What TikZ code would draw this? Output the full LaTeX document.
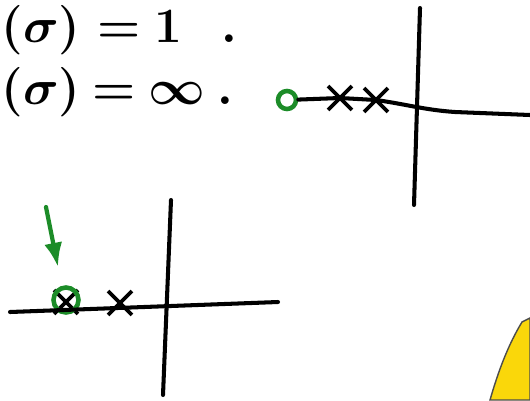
\documentclass[tikz,border=0pt]{standalone}
\usetikzlibrary{arrows.meta, positioning, shapes.misc}
\definecolor{penGreen}{RGB}{28,140,40}
\definecolor{markerYellow}{RGB}{250,215,10}

\begin{document}
\begin{tikzpicture}[
    x=0.02cm, y=-0.02cm, % one unit is one pixel of the screenshot
    >=Latex, % Set default arrow tip style
    axis/.style={line width=2.3pt, line cap=round}, % Style for the hand drawn axes
    pole/.style={draw, cross out, line width=2.2pt, minimum size=0.4cm, inner sep=0pt}, % Style for the x marks
    zero/.style={draw=penGreen, circle, line width=2.6pt, inner sep=0pt}, % Style for the green circles
    handtext/.style={font=\Huge\boldmath, scale=1.13, transform shape, inner sep=0pt, anchor=base west} % Style for the written lines
]
    \useasboundingbox (0,0) rectangle (530,400);

    % Written lines at the top left
    \node[handtext] (lineA) at (1,42) {$(\sigma)\hspace{0.3cm}{=}\hspace{0.25cm}1\hspace{0.7cm}.$};
    \node[handtext] (lineB) at (1,104) {$(\sigma)\hspace{0.22cm}{=}\hspace{0.22cm}\infty\hspace{0.22cm}.$};

    % Right plot
    \coordinate (rTop)    at (420,8);
    \coordinate (rBottom) at (414,205);
    \coordinate (rEnd)    at (530,115);
    \node[zero, minimum size=0.36cm] (zR) at (287,100) {};
    \node[pole] (pR1) at (340,98) {};
    \node[pole] (pR2) at (376,100) {};
    \draw[axis] (rTop) -- (rBottom);
    \draw[axis] (zR) -- (pR1.center) -- (pR2.center)
        .. controls (405,104) and (425,110) .. (455,112) -- (rEnd);

    % Left plot
    \coordinate (lTop)    at (171,200);
    \coordinate (lBottom) at (163,395);
    \coordinate (lStart)  at (10,312);
    \coordinate (lEnd)    at (278,302);
    \node[pole] (pL1) at (66,302) {};
    \node[zero, minimum size=0.5cm] (zL) at (66,300) {};
    \node[pole] (pL2) at (120,303) {};
    \draw[axis] (lTop) -- (lBottom);
    \draw[axis] (lStart) -- (lEnd);

    % Green arrow pointing at the circled pole
    \coordinate (arrowTail) at (46,207);
    \coordinate (arrowHead) at (58,267);
    \draw[penGreen, line width=2.4pt, line cap=round, ->] (arrowTail) -- (arrowHead);

    % Yellow object in the corner
    \draw[black!70, fill=markerYellow, line width=0.8pt]
        (490,400) .. controls (498,372) and (508,345) .. (522,322)
        -- (530,318) -- (530,400) -- cycle;
\end{tikzpicture}
\end{document}
